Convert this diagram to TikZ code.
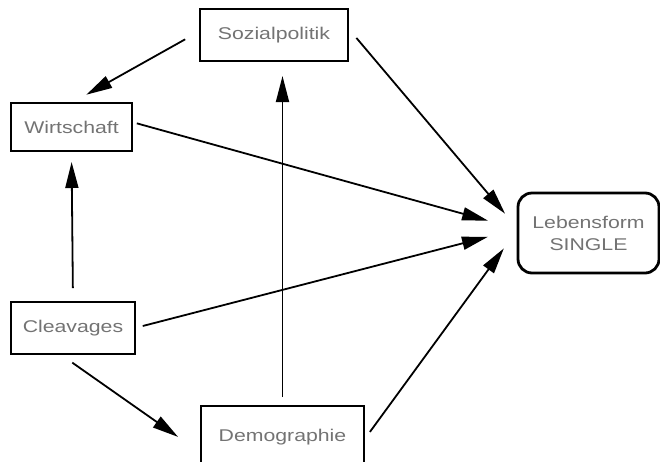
\documentclass[tikz,border=0pt]{standalone}
\usepackage{fontspec}
\setmainfont{Liberation Sans}
\usetikzlibrary{positioning, calc, arrows.meta}

\newcommand{\lbl}[1]{\textcolor{black!55}{\scalebox{1.25}[1]{#1}}}

\begin{document}
	\begin{tikzpicture}[x=1pt, y=-1pt,
			feld/.style={draw, line width=2.8pt, inner sep=0pt, outer sep=0pt, align=center,
				font=\fontsize{17}{22}\selectfont},
			pfeil/.style={line width=1.8pt, -{Triangle[length=26pt, width=13pt]}}]
		\useasboundingbox (0,0) rectangle (660,461);
		\clip (0,0) rectangle (660,461);
		
		\node[feld, minimum width=148pt, minimum height=52pt] (soz) at (274,35) {\lbl{Sozialpolitik}};
		\node[feld, minimum width=121pt, minimum height=48pt] (wir) at (71.5,127) {\lbl{Wirtschaft}};
		\node[feld, minimum width=124pt, minimum height=52pt] (clv) at (73,328) {\lbl{Cleavages}};
		\node[feld, minimum width=163pt, minimum height=62pt] (dem) at (282.5,437) {\lbl{Demographie}};
		\node[feld, rounded corners=14pt, minimum width=141pt, minimum height=80pt] (leb) at (588.5,233)
			{\lbl{Lebensform}\\\lbl{SINGLE}};
		
		% Pfeile
		\draw[pfeil, shorten <=17pt, shorten >=17pt] ([yshift=4pt] soz.west) -- (wir.north);
		\draw[pfeil, shorten <=13pt, shorten >=20pt] ([yshift=7pt] soz.east) -- ([yshift=4pt] leb.west);
		\draw[pfeil, shorten <=5pt, shorten >=31pt] ([yshift=5pt] wir.east) -- ([yshift=4pt] leb.west);
		\draw[pfeil, shorten <=8pt, shorten >=31pt] (clv.east) -- ([yshift=4pt] leb.west);
		\draw[pfeil, shorten <=10pt, shorten >=24pt] ([yshift=-3pt] dem.east) -- ([yshift=4pt] leb.west);
		\draw[pfeil, shorten <=14pt, shorten >=11pt] (clv.north) -- (wir.south);
		\draw[pfeil, shorten <=9pt, shorten >=15pt] (dem.north) -- (dem.north |- soz.south);
		\draw[pfeil, shorten <=15pt, shorten >=28pt] ([xshift=-13pt] clv.south) -- ([yshift=-16pt] dem.west);
	\end{tikzpicture}
\end{document}
